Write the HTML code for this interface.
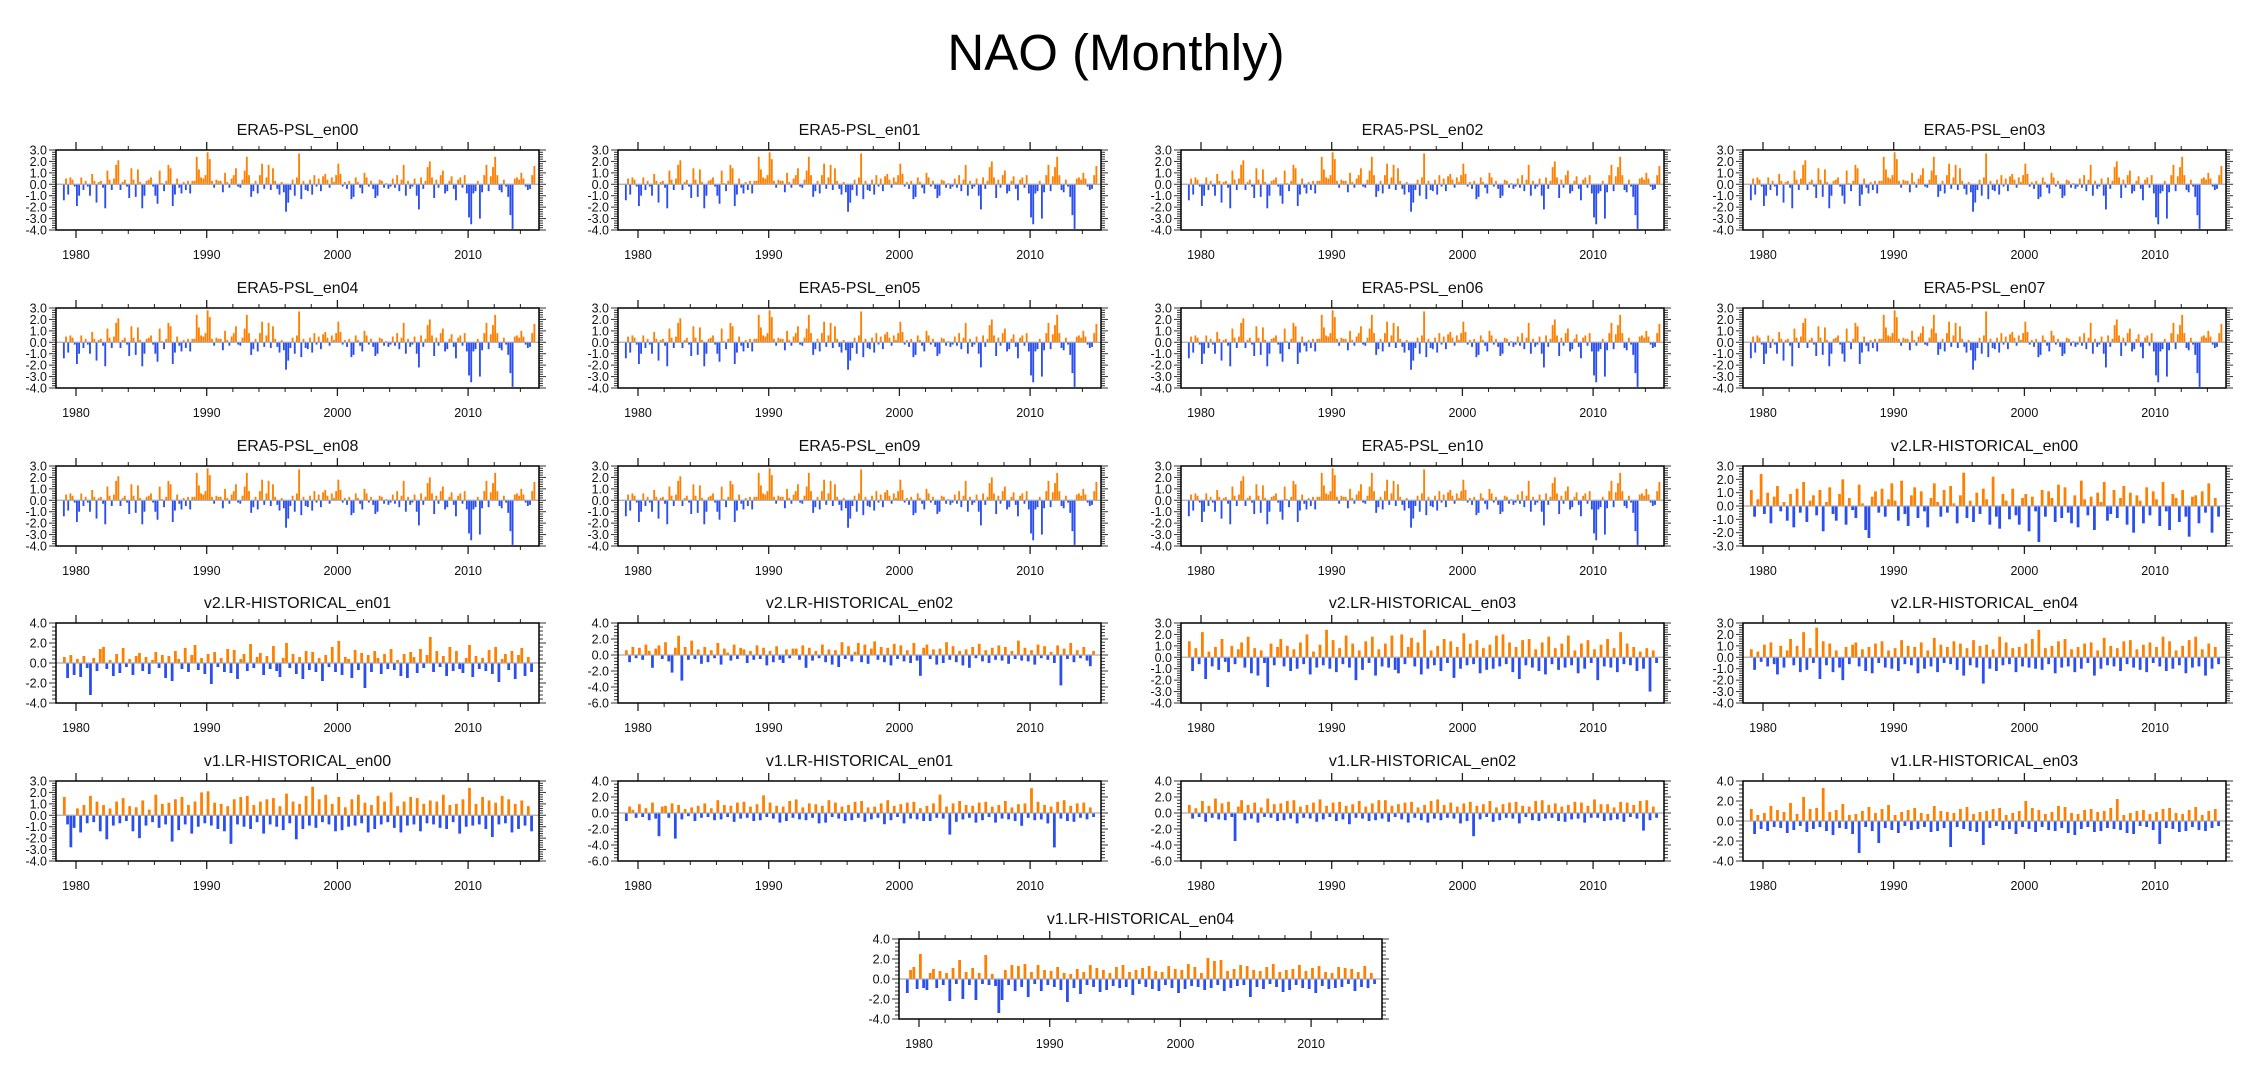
<!DOCTYPE html>
<html><head><meta charset="utf-8"><title>NAO (Monthly)</title>
<style>
html,body{margin:0;padding:0;background:#fff;}
svg{display:block;font-family:"Liberation Sans",sans-serif;}
</style></head>
<body>
<svg id="chart" width="2252" height="1079" viewBox="0 0 2252 1079" xmlns="http://www.w3.org/2000/svg">
<rect x="0" y="0" width="2252" height="1079" fill="#fff"/>
<text x="1116" y="70" font-size="51" text-anchor="middle" fill="#000">NAO (Monthly)</text>
<g id="panels"></g>
</svg>
<script>
// ERA5 (bimonthly resolution, 1979-2015)
const era5 = [
-1.4,0.5,-0.9,0.6,0.4,-0.2, -1.9,-1.0,0.6,-0.5,0.3,-0.2, -1.0,0.9,0.3,-1.6,0.2,0.3, -0.3,-2.1,1.2,0.4,-0.5,0.5,
1.7,2.1,-0.5,0.2,0.4,-0.2, -1.2,1.4,0.4,-1.1,1.3,0.2, -2.1,-1.0,0.3,0.4,0.6,-0.2, -1.0,-1.7,1.2,0.1,-0.6,0.3,
1.7,1.4,-1.9,-0.9,0.5,-0.3, -0.8,0.2,-0.5,0.3,-0.8,0.3, 0.3,2.4,1.3,0.6,0.5,0.8, 2.8,2.2,0.3,-0.3,0.4,0.3,
0.3,-0.7,1.0,0.2,-0.3,0.5, 0.8,1.4,-0.2,-0.3,0.4,1.2, 2.4,0.8,-1.1,-0.6,0.3,-0.8, 0.8,1.8,-0.4,0.6,1.7,-0.5,
1.4,0.3,-0.4,-0.9,0.2,-0.7, -2.4,-1.6,-0.5,0.4,-1.0,0.6, 2.7,-1.3,0.3,-0.5,-0.6,0.4, -0.9,0.8,-0.2,0.5,-0.6,0.7,
0.9,0.4,-0.3,0.6,0.2,0.8, 1.8,0.9,-0.2,0.2,-0.4,0.3, -1.3,-1.1,0.6,0.2,-0.3,-0.8, 1.0,0.6,-0.2,0.3,-0.4,-1.2,
-1.0,0.4,0.3,-0.3,0.1,-0.4, -0.2,0.5,-0.3,0.8,-0.6,0.4, 1.7,-1.0,0.3,-0.4,-0.2,0.5, -1.0,-2.2,0.6,-0.4,0.3,1.5,
2.0,0.6,-1.2,0.4,-0.3,0.8, 1.2,-0.8,-0.6,0.3,0.7,-0.4, -1.4,0.4,0.6,-0.3,0.8,-0.8, -2.9,-3.5,-0.8,-0.6,0.3,-3.0,
-0.7,0.8,1.7,-0.6,0.7,1.5, 2.4,0.8,-0.5,-0.7,0.4,-0.2, -1.1,-2.7,-3.9,0.5,0.6,0.4, 1.0,0.5,-0.2,-0.5,-0.4,0.8,
1.6];
// Model runs (quarterly resolution, 1979-2014)
const v2en00 = [1.2,-0.8,0.5,2.4,-0.6,1.0,-1.3,0.7,1.5,-0.4,0.3,-1.1,0.9,-1.6,1.3,-0.5,1.8,-1.2,0.4,0.8,-0.7,1.2,-1.9,0.3,1.4,-0.6,-1.1,0.9,2.0,-1.4,0.6,-0.3,-0.9,1.6,0.2,-1.8,-2.4,0.7,1.1,-0.5,1.3,-0.8,0.5,1.7,0.4,-1.1,1.9,-0.6,-1.5,0.8,1.4,-0.9,1.1,-0.4,-1.6,0.6,1.7,0.3,-0.8,1.2,-0.5,1.5,0.2,-1.3,0.8,2.5,-0.9,0.4,-1.2,1.0,-0.6,1.3,0.5,-1.4,2.2,-0.8,-1.7,0.9,0.4,-1.0,1.3,-0.7,-1.4,0.6,0.9,-1.9,0.7,-0.4,-2.7,1.2,-0.8,1.1,0.6,-1.2,1.6,-0.9,1.4,-0.5,-1.3,0.8,-1.6,1.9,0.5,-0.7,0.7,-1.8,1.0,0.3,1.8,-1.1,-0.6,1.2,-0.9,0.6,1.5,-1.4,1.0,-2.0,0.8,0.4,-1.3,1.4,-0.7,1.1,0.5,-1.5,1.8,-0.4,-1.8,0.9,0.6,-1.2,1.2,-0.8,-2.3,0.7,0.8,-1.3,1.1,-0.5,1.7,-2.0,0.6,-0.8];
const v2en01 = [0.6,-1.5,0.8,-1.2,0.4,-1.4,0.7,-0.5,-3.2,0.5,-0.8,1.4,1.6,-0.6,0.3,-1.3,0.9,-1.0,1.5,-0.4,0.4,-1.2,0.7,1.0,-0.8,0.6,-1.1,0.3,1.1,-0.5,0.8,-1.5,0.7,-1.8,1.2,0.4,-0.6,1.5,-0.9,0.8,1.8,-0.7,0.5,-1.1,0.9,-2.1,1.1,-0.4,0.5,-0.9,1.4,-1.0,1.3,-1.6,0.4,0.9,-0.8,1.9,-0.5,0.6,1.0,-1.2,0.7,-0.6,1.7,-0.8,-1.4,0.5,2.0,-0.5,0.9,-1.1,0.6,-1.6,1.2,-0.7,1.1,-0.9,0.5,-1.8,0.8,-0.4,1.6,-0.9,2.2,-1.2,0.6,0.4,-1.5,1.3,-0.7,1.0,-2.5,0.8,-0.9,1.2,0.5,-1.1,0.9,-0.6,1.4,-0.7,0.3,-1.3,0.9,-1.5,1.1,0.6,-1.0,1.4,-0.5,0.8,2.6,-0.9,1.2,-0.4,0.7,-1.3,1.6,-0.8,1.2,-0.6,-1.0,0.5,1.8,-1.4,0.7,-0.6,0.5,-0.8,1.3,-1.1,1.6,-1.9,0.4,0.9,-0.7,1.2,-1.6,0.8,1.5,-1.3,0.6,-0.9];
const v2en02 = [0.6,-0.9,1.0,-0.4,0.9,-0.6,1.3,0.5,-1.6,0.8,1.2,-0.5,1.6,-0.8,-2.2,0.9,2.4,-3.2,1.0,-0.6,1.8,-0.5,0.7,-1.1,1.0,-0.9,0.6,-0.4,1.5,-1.2,0.8,0.3,-0.7,1.3,-0.5,0.9,0.7,-1.0,0.5,-0.6,1.2,-0.5,0.9,-1.3,0.5,-0.9,1.1,-0.6,-1.0,0.7,-0.4,0.8,0.8,-0.6,1.2,-1.6,0.9,-0.7,0.5,-0.4,1.3,-0.9,0.7,-1.2,0.6,-1.5,1.6,-0.5,1.1,-0.8,0.4,1.5,-0.9,1.3,-1.1,0.8,1.7,-0.6,1.0,-0.9,0.9,-1.3,1.4,-0.5,1.2,-0.8,0.6,-1.0,1.5,-0.7,-2.6,0.9,1.3,-0.5,0.7,-1.2,0.8,-1.0,1.6,-0.6,1.1,-0.9,0.5,-1.3,0.7,-1.6,1.0,-0.4,1.4,-0.8,0.6,-1.0,0.9,-0.6,1.2,-0.7,1.0,-1.1,0.5,-0.5,1.8,-0.7,0.9,-0.8,0.6,-1.2,1.3,-0.4,1.1,-0.6,0.4,-1.0,1.2,-3.8,0.8,-0.5,1.5,-0.9,0.6,-0.4,1.0,-0.7,-1.4,0.5];
const v2en03 = [1.4,-1.2,0.8,-0.6,2.2,-1.9,0.5,-0.8,0.9,-1.1,1.6,-0.4,-1.3,1.0,-0.6,0.7,1.3,-0.9,1.8,-1.4,0.8,-1.6,0.6,-0.5,-2.6,1.2,-0.7,0.9,1.6,-0.8,1.0,-1.2,0.7,-1.0,1.3,-0.6,2.0,-1.5,0.5,-0.9,1.1,-0.7,2.4,-1.0,1.5,-1.3,0.8,-0.6,1.9,-0.9,1.2,-2.0,0.6,-1.1,1.4,-0.5,1.8,-1.6,0.7,-0.8,1.2,-0.9,1.9,-1.1,-1.4,2.0,-0.6,0.9,1.7,-0.8,1.3,-1.5,2.4,-1.0,0.6,-0.7,1.0,-1.2,1.6,-0.5,1.4,-1.8,0.9,-1.0,2.1,-0.7,1.2,-0.6,1.5,-1.4,0.8,-1.1,1.1,-1.0,1.9,-0.8,2.0,-0.6,1.3,-1.3,0.9,-1.9,1.5,-0.7,1.6,-0.9,0.7,-1.2,1.3,-1.5,1.8,-0.6,0.8,-1.1,1.2,-0.9,1.9,-0.7,0.6,-1.4,1.2,-1.0,1.5,-0.5,0.7,-2.0,1.1,-0.8,1.6,-0.9,0.8,-1.3,2.2,-0.6,1.2,-0.7,0.9,-1.2,0.5,-1.0,0.8,-3.0,0.6,-0.5];
const v2en04 = [0.7,-1.1,0.5,-0.4,1.1,-0.8,1.3,-0.6,-1.5,1.0,-0.9,0.6,1.6,-0.7,1.0,-1.3,2.2,-1.1,0.8,-0.5,2.6,-1.9,1.4,-0.7,1.2,-1.3,0.6,-0.9,-2.0,0.9,-0.6,1.1,1.3,-0.8,0.7,-1.2,0.9,-1.4,1.2,-0.5,1.4,-0.9,0.6,-1.0,0.8,-1.2,1.5,-0.6,1.0,-0.7,0.9,-1.4,1.3,-1.0,0.6,-0.8,1.7,-1.3,1.1,-0.5,0.9,-0.6,1.4,-1.1,1.2,-1.6,0.8,-0.7,1.5,-0.9,1.0,-2.3,1.1,-1.0,0.7,-1.2,1.8,-0.7,1.3,-0.6,0.8,-1.3,0.9,-0.8,1.2,-0.9,1.6,-1.0,2.4,-1.1,0.8,-0.6,1.0,-1.4,1.4,-0.9,1.6,-0.8,0.7,-1.3,0.9,-1.0,1.2,-0.5,1.3,-1.6,0.6,-1.0,1.7,-0.7,1.0,-0.8,0.8,-1.2,1.4,-0.6,1.5,-0.9,0.7,-1.1,1.1,-1.3,1.3,-0.5,0.9,-0.8,1.8,-1.2,1.4,-1.0,0.6,-0.7,1.0,-1.4,1.5,-0.9,1.8,-0.8,0.7,-1.6,1.2,-1.0,0.9,-0.6];
const v1en00 = [1.6,-0.8,-2.8,-1.1,0.6,-1.5,0.9,-0.7,1.7,-0.6,1.2,-1.4,0.9,-2.1,0.6,-0.9,1.2,-0.7,1.5,-0.5,0.8,-1.4,0.7,-2.0,1.3,-0.9,0.5,-0.6,1.8,-1.1,1.0,-0.8,1.1,-2.3,1.4,-1.3,1.6,-0.8,0.9,-1.6,1.2,-1.0,2.0,-0.7,2.1,-0.9,1.1,-1.2,1.0,-1.4,0.8,-2.5,1.4,-0.8,1.6,-1.0,1.7,-1.2,0.9,-0.6,1.2,-1.6,1.4,-0.8,1.5,-1.0,0.8,-1.3,1.9,-0.7,1.2,-2.1,1.0,-1.2,1.7,-0.9,2.5,-1.1,1.4,-0.6,1.8,-0.8,1.0,-1.4,1.6,-1.3,0.7,-1.0,1.4,-0.9,1.8,-0.7,1.1,-1.5,0.9,-1.2,1.7,-0.8,1.2,-0.6,2.0,-1.1,0.8,-1.5,1.2,-0.9,1.6,-0.8,1.5,-1.4,1.0,-0.7,1.3,-0.8,1.2,-1.1,1.8,-1.2,0.9,-0.6,1.0,-1.6,1.4,-1.0,2.4,-0.9,1.0,-0.8,1.6,-1.2,1.3,-1.9,1.1,-0.8,1.7,-0.7,1.4,-1.5,1.0,-1.2,1.3,-0.9,0.8,-1.4];
const v1en01 = [-1.0,0.8,0.4,-0.6,1.1,-0.5,0.6,-0.9,1.3,-0.7,-2.9,0.8,0.9,-0.6,1.2,-3.2,1.0,-0.8,0.5,-0.4,0.7,-1.0,0.9,-0.6,1.2,-0.5,0.6,-0.9,1.6,-0.8,1.0,-0.5,0.9,-1.1,1.3,-0.7,1.4,-0.6,0.8,-1.0,1.1,-0.9,2.2,-0.5,1.3,-0.7,0.9,-1.2,0.8,-1.0,1.5,-0.6,1.7,-0.8,0.7,-0.9,1.2,-0.6,1.1,-1.3,0.9,-1.2,1.6,-0.5,1.3,-0.7,0.8,-1.0,1.0,-0.9,1.4,-0.6,1.5,-1.1,0.7,-0.8,0.8,-0.6,1.2,-1.4,1.6,-0.9,0.9,-0.5,1.1,-1.3,1.3,-0.7,1.4,-0.8,0.6,-1.0,0.9,-1.0,1.2,-0.6,2.3,-0.7,0.8,-2.7,1.2,-1.1,1.5,-0.8,1.0,-0.6,0.9,-1.2,1.3,-0.9,1.4,-0.5,0.8,-1.2,1.0,-0.7,1.5,-0.8,0.7,-1.0,1.1,-1.6,1.2,-0.6,3.1,-0.9,1.4,-0.8,1.0,-1.3,0.8,-4.3,1.4,-0.7,1.6,-1.0,0.9,-1.1,1.2,-0.6,1.3,-0.8,0.7,-0.5];
const v1en02 = [1.0,-0.7,0.6,-0.5,1.5,-1.1,0.9,-0.6,1.8,-0.8,1.2,-0.9,1.4,-0.5,-3.5,0.8,1.6,-0.9,1.0,-0.7,1.3,-1.2,0.7,-0.5,1.8,-0.6,1.1,-1.0,1.2,-0.9,1.5,-0.7,1.6,-1.3,0.8,-0.6,1.0,-0.7,1.3,-1.1,1.7,-0.8,0.9,-0.5,1.3,-1.0,1.4,-0.8,0.9,-1.4,1.1,-0.6,1.5,-0.7,0.8,-1.0,1.2,-0.9,1.6,-0.7,1.6,-1.1,0.9,-0.5,1.1,-0.8,1.3,-1.2,1.4,-0.6,0.7,-0.9,1.0,-1.2,1.5,-0.7,1.7,-0.9,1.0,-0.6,1.3,-0.7,0.8,-1.3,1.2,-1.0,1.4,-2.9,0.9,-0.8,1.1,-0.5,1.5,-1.1,0.7,-0.9,1.1,-0.6,1.3,-0.7,1.4,-1.3,0.9,-0.5,0.8,-0.9,1.5,-1.0,1.6,-0.7,1.0,-0.6,1.2,-1.0,0.8,-1.1,1.0,-0.8,1.4,-0.7,1.3,-1.2,0.9,-0.6,1.7,-0.6,1.1,-1.0,1.1,-0.9,0.7,-0.8,1.4,-1.1,1.3,-0.5,1.0,-0.7,1.5,-2.2,1.6,-0.9,0.8,-0.6];
const v1en03 = [1.2,-1.3,0.6,-0.8,0.8,-1.0,1.5,-0.6,1.1,-0.7,0.9,-1.2,1.8,-0.9,0.7,-0.5,2.4,-1.1,1.2,-0.8,1.3,-0.6,3.3,-1.0,0.9,-1.4,1.1,-0.7,1.7,-0.8,0.6,-1.3,0.7,-3.2,1.0,-0.6,1.4,-1.0,0.8,-2.2,1.2,-0.7,1.6,-0.9,0.6,-1.2,0.9,-0.5,1.1,-0.9,1.3,-0.8,0.8,-0.6,0.7,-1.1,1.5,-1.0,1.0,-0.7,0.9,-2.6,0.8,-0.6,1.2,-0.8,1.4,-1.0,0.7,-1.1,0.9,-2.4,1.0,-0.7,1.2,-0.5,1.3,-0.9,0.6,-0.8,0.8,-1.3,1.0,-0.6,2.0,-0.8,1.3,-1.1,1.1,-0.6,0.7,-0.9,0.9,-1.0,1.5,-0.7,1.4,-1.2,0.8,-1.4,0.7,-0.8,1.1,-0.6,1.2,-1.1,0.9,-1.0,1.0,-0.7,1.3,-0.8,2.2,-0.9,0.6,-1.2,0.8,-1.3,1.0,-0.5,1.1,-0.6,0.7,-0.9,0.9,-2.3,1.2,-0.7,1.3,-0.8,0.8,-1.1,0.7,-1.0,1.1,-0.6,1.4,-0.9,0.6,-1.0,1.0,-0.7,1.2,-0.5];
const v1en04 = [-1.4,0.9,1.2,-1.0,2.5,-0.9,-1.1,0.6,1.0,-0.9,0.8,-0.6,0.6,-2.2,1.1,-0.5,1.9,-2.0,0.7,-0.6,1.1,-2.1,0.6,-0.5,2.4,-0.6,0.5,-0.7,-3.4,-2.1,0.9,-0.6,1.4,-1.2,1.3,-0.8,1.5,-1.8,0.7,-0.5,1.4,-1.2,0.9,-0.6,0.8,-0.8,1.2,-1.1,0.6,-2.3,0.5,-0.9,1.0,-1.5,0.7,-0.6,1.4,-0.8,1.1,-1.3,0.9,-1.1,0.6,-0.7,1.2,-0.9,1.4,-0.8,0.7,-1.6,0.9,-0.5,1.1,-0.8,1.3,-1.0,0.8,-1.2,0.7,-0.6,1.3,-0.9,1.0,-1.4,0.9,-1.0,1.5,-0.7,1.2,-0.8,0.6,-1.1,2.1,-0.9,1.8,-0.6,1.9,-1.2,0.8,-0.9,1.0,-0.7,1.4,-0.6,1.3,-1.8,0.9,-0.8,0.8,-1.0,1.2,-0.5,1.5,-0.8,0.7,-1.3,0.9,-1.1,1.0,-0.6,1.4,-0.9,0.8,-1.0,1.1,-1.4,1.3,-0.7,0.7,-1.0,0.6,-0.9,1.2,-0.8,1.1,-0.5,1.0,-1.2,0.7,-0.8,1.3,-0.9,0.6,-0.5];

const panelTitles = ["ERA5-PSL_en00","ERA5-PSL_en01","ERA5-PSL_en02","ERA5-PSL_en03","ERA5-PSL_en04","ERA5-PSL_en05","ERA5-PSL_en06","ERA5-PSL_en07","ERA5-PSL_en08","ERA5-PSL_en09","ERA5-PSL_en10","v2.LR-HISTORICAL_en00","v2.LR-HISTORICAL_en01","v2.LR-HISTORICAL_en02","v2.LR-HISTORICAL_en03","v2.LR-HISTORICAL_en04","v1.LR-HISTORICAL_en00","v1.LR-HISTORICAL_en01","v1.LR-HISTORICAL_en02","v1.LR-HISTORICAL_en03","v1.LR-HISTORICAL_en04"];
const panelSeries = [era5,era5,era5,era5,era5,era5,era5,era5,era5,era5,era5,v2en00,v2en01,v2en02,v2en03,v2en04,v1en00,v1en01,v1en02,v1en03,v1en04];
const panelYMax = [3,3,3,3,3,3,3,3,3,3,3,3,4,4,3,3,3,4,4,4,4];
const panelYMin = [-4,-4,-4,-4,-4,-4,-4,-4,-4,-4,-4,-3,-4,-6,-4,-4,-4,-6,-6,-4,-4];
const panelYStep = [1,1,1,1,1,1,1,1,1,1,1,1,2,2,1,1,1,2,2,2,2];
const yearTicks = [1980,1990,2000,2010];

const NS = "http://www.w3.org/2000/svg";
const root = document.getElementById("panels");
const colL = [56,618,1181,1743], rowT = [150,308,466,623,781];
const PW = 483, PH = 80, YR0 = 1978.47, PXY = 13.07;
function mk(tag, attrs, parent){const e=document.createElementNS(NS,tag);for(const k in attrs)e.setAttribute(k,attrs[k]);parent.appendChild(e);return e;}

for (let p = 0; p < panelTitles.length; p++) {
  const L = p < 20 ? colL[p % 4] : 899;
  const T = p < 20 ? rowT[Math.floor(p / 4)] : 939;
  const ymax = panelYMax[p], ymin = panelYMin[p], step = panelYStep[p];
  const data = panelSeries[p];
  const period = data === era5 ? 1/6 : 1/4;
  const xS = y => L + (y - YR0) * PXY;
  const yS = v => T + (ymax - v) / (ymax - ymin) * PH;
  const g = mk("g", {}, root);
  
  
  const t = mk("text", {x: L + PW/2, y: T - 15, "font-size": 16, "text-anchor": "middle", fill: "#111"}, g);
  t.textContent = panelTitles[p];
  
  
  const y0 = yS(0);
  const bw = period * PXY * 0.85;
  for (let i = 0; i < data.length; i++) {
    const v = data[i];
    const x = xS(1979 + i * period);
    const yv = yS(v);
    const r = mk("rect", {x: x.toFixed(2), y: Math.min(yv, y0).toFixed(2), width: bw.toFixed(2), height: Math.abs(yv - y0).toFixed(2), fill: v >= 0 ? "#ff8000" : "#2a4ef0"}, g);
    
    
  }
  const zl = mk("line", {x1: L, x2: L + PW, y1: y0, y2: y0, stroke: "#aaa", "stroke-width": 1.2}, g);
  
  
  const minor = step / 5;
  for (let k = 0; k <= Math.round((ymax - ymin) / minor); k++) {
    const v = ymin + k * minor;
    const yy = yS(v);
    const isMaj = k % 5 === 0;
    const len = isMaj ? 7 : 4;
    mk("line", {x1: L - len, x2: L, y1: yy, y2: yy, stroke: "#333", "stroke-width": 1}, g);
    mk("line", {x1: L + PW, x2: L + PW + len, y1: yy, y2: yy, stroke: "#333", "stroke-width": 1}, g);
    if (isMaj) {
      const lb = mk("text", {x: L - 9, y: yy + 4.5, "font-size": 12.5, "text-anchor": "end", fill: "#111"}, g);
      lb.textContent = v.toFixed(1);
      
      
    }
  }
  for (let yr = 1980; yr <= 2014; yr += 2) {
    const xx = xS(yr);
    const isMaj = yr % 10 === 0;
    const len = isMaj ? 8 : 4;
    mk("line", {x1: xx, x2: xx, y1: T - len, y2: T, stroke: "#222", "stroke-width": isMaj ? 1.3 : 1}, g);
    mk("line", {x1: xx, x2: xx, y1: T + PH, y2: T + PH + len, stroke: "#222", "stroke-width": isMaj ? 1.3 : 1}, g);
  }
  for (const yr of yearTicks) {
    const xl = mk("text", {x: xS(yr), y: T + PH + 29, "font-size": 12.5, "text-anchor": "middle", fill: "#111"}, g);
    xl.textContent = yr;
    
    
  }
  const fr = mk("rect", {x: L, y: T, width: PW, height: PH, fill: "none", stroke: "#000", "stroke-width": 1.5}, g);
  
  
}
</script>
</body></html>
